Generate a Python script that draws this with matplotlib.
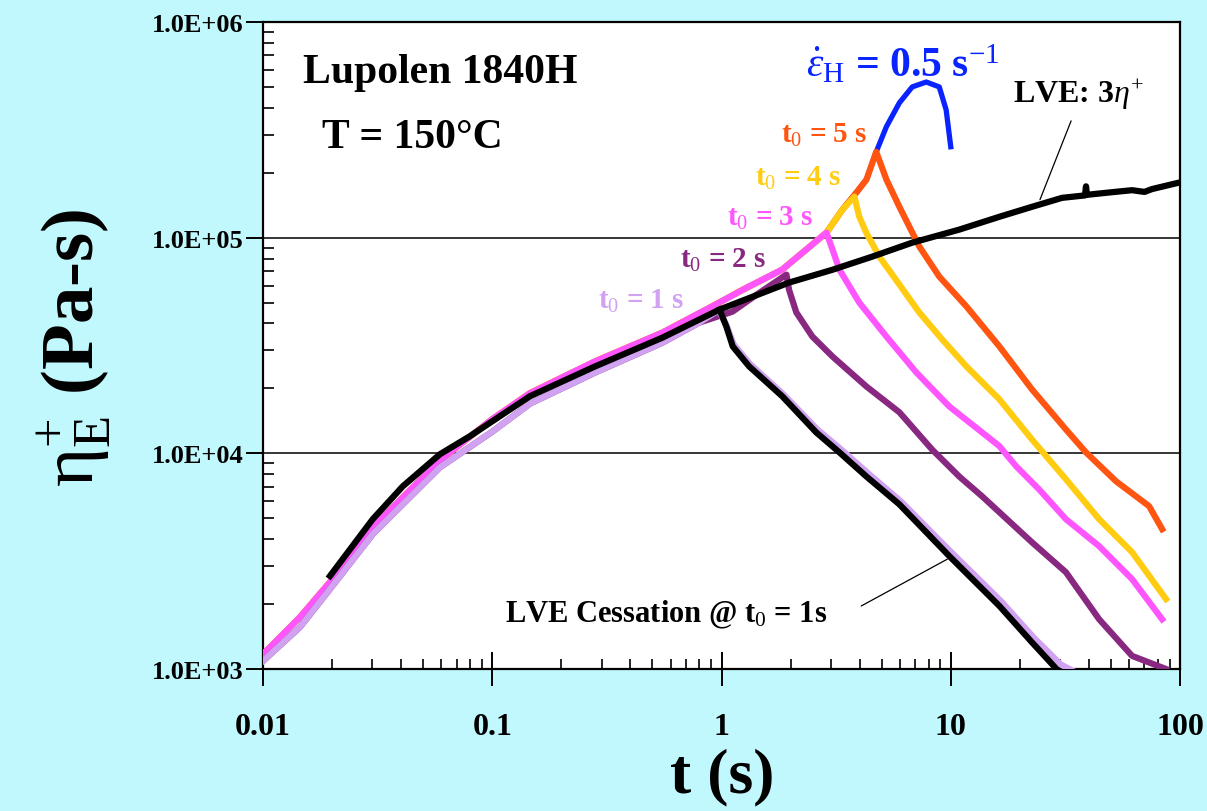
import matplotlib
matplotlib.use('Agg')
import matplotlib.pyplot as plt
from matplotlib.ticker import FixedLocator, LogLocator, NullFormatter

plt.rcParams['font.family'] = 'Liberation Serif'
plt.rcParams['mathtext.fontset'] = 'custom'
plt.rcParams['mathtext.rm'] = 'Liberation Serif'
plt.rcParams['mathtext.it'] = 'Liberation Serif:italic'
plt.rcParams['mathtext.bf'] = 'Liberation Serif:bold'

# startup curves (upper edge of the band = pink/yellow/orange/blue, lower = purple/lavender)
up_t = [0.01, 0.0145, 0.0196, 0.0301, 0.0591, 0.1, 0.146, 0.281, 0.553, 0.94, 1.24, 1.84,
        2.87, 3.37, 3.87, 4.29, 4.73, 5.24, 5.97, 6.79, 7.82, 8.91, 9.55, 10.0]
up_eta = [1.17e3, 1.74e3, 2.53e3, 4.54e3, 9.28e3, 1.44e4, 1.90e4, 2.67e4, 3.63e4, 4.89e4, 5.74e4, 7.11e4,
          1.055e5, 1.35e5, 1.615e5, 1.86e5, 2.50e5, 3.27e5, 4.22e5, 5.0e5, 5.27e5, 5.0e5, 3.91e5, 2.64e5]
lo_t = [0.01, 0.0145, 0.0196, 0.0301, 0.0591, 0.1, 0.146, 0.281, 0.553, 0.80, 1.117, 1.466, 1.92]
lo_eta = [1.09e3, 1.565e3, 2.35e3, 4.22e3, 8.61e3, 1.26e4, 1.70e4, 2.37e4, 3.26e4, 4.04e4, 4.54e4, 5.56e4, 6.74e4]

# relaxation after cessation
lav_t = [0.97, 1.05, 1.13, 1.33, 1.86, 2.62, 3.3, 4.35, 6.05, 10.0, 16.6, 23.0, 30.2, 36.0]
lav_eta = [4.6e4, 3.95e4, 3.2e4, 2.6e4, 1.88e4, 1.29e4, 1.05e4, 8.1e3, 6.0e3, 3.5e3, 2.06e3, 1.40e3, 1.05e3, 0.95e3]
pur_t = [1.97, 2.12, 2.49, 3.05, 4.29, 5.97, 8.30, 10.9, 13.7, 22.6, 31.8, 44.4, 61.8, 86.9]
pur_eta = [5.74e4, 4.5e4, 3.48e4, 2.81e4, 2.04e4, 1.55e4, 1.04e4, 7.8e3, 6.32e3, 3.87e3, 2.81e3, 1.70e3, 1.15e3, 1.0e3]
pink_t = [3.05, 3.27, 3.99, 5.24, 7.08, 9.85, 13.7, 16.3, 19.3, 24.3, 31.8, 44.4, 61.8, 83.6]
pink_eta = [8.8e4, 7.1e4, 5.0e4, 3.48e4, 2.37e4, 1.65e4, 1.25e4, 1.08e4, 8.7e3, 6.8e3, 4.95e3, 3.71e3, 2.61e3, 1.70e3]
yel_t = [3.80, 3.99, 4.29, 4.88, 5.97, 7.29, 9.18, 11.7, 16.3, 22.6, 31.8, 44.4, 61.8, 86.9]
yel_eta = [1.55e5, 1.25e5, 1.05e5, 8.17e4, 6.06e4, 4.5e4, 3.37e4, 2.53e4, 1.78e4, 1.16e4, 7.58e3, 4.95e3, 3.48e3, 2.11e3]
ora_t = [5.24, 5.97, 7.29, 8.91, 11.7, 16.3, 22.6, 31.8, 38.9, 52.6, 73.3, 83.6]
ora_eta = [1.86e5, 1.39e5, 9.1e4, 6.6e4, 4.8e4, 3.13e4, 1.98e4, 1.29e4, 1.01e4, 7.42e3, 5.69e3, 4.45e3]

# linear viscoelastic envelope and LVE cessation at t0 = 1 s
lve_t = [0.0196, 0.0301, 0.0407, 0.0591, 0.0798, 0.146, 0.281, 0.553, 0.98, 1.97, 3.05, 4.55, 6.79,
         10.9, 16.3, 22.6, 30.6, 38.5, 38.9, 39.3, 49.1, 61.8, 70.0, 75.5, 99.0]
lve_eta = [2.70e3, 4.95e3, 7.03e3, 9.9e3, 1.2e4, 1.84e4, 2.53e4, 3.44e4, 4.64e4, 6.19e4, 7.1e4, 8.17e4, 9.48e4,
           1.09e5, 1.25e5, 1.39e5, 1.53e5, 1.57e5, 1.73e5, 1.58e5, 1.62e5, 1.66e5, 1.63e5, 1.68e5, 1.80e5]
cess_t = [0.98, 1.05, 1.12, 1.32, 1.84, 2.59, 3.27, 4.29, 5.97, 9.85, 16.3, 22.6, 29.7]
cess_eta = [4.64e4, 3.87e4, 3.13e4, 2.53e4, 1.84e4, 1.25e4, 1.01e4, 7.8e3, 5.8e3, 3.34e3, 1.96e3, 1.33e3, 0.97e3]

x_ticks = [0.01, 0.1, 1, 10, 100]
x_labels = ['0.01', '0.1', '1', '10', '100']
y_ticks = [1e3, 1e4, 1e5, 1e6]
y_labels = ['1.0E+03', '1.0E+04', '1.0E+05', '1.0E+06']

BG = '#C0F8FD'
BLUE = '#0A24FF'
ORANGE = '#FF5511'
YELLOW = '#FFCC11'
PINK = '#FF55FF'
PURPLE = '#882880'
LAV = '#D2A2F2'


def cut(ts, es, tmax):
    keep = [i for i in range(len(ts)) if ts[i] <= tmax]
    return [ts[i] for i in keep], [es[i] for i in keep]


W, H = 1207, 812
fig = plt.figure(figsize=(W / 100, H / 100), dpi=100, facecolor=BG)
ax = fig.add_axes([263 / W, (H - 670) / H, (1180 - 263) / W, (670 - 23) / H])
ax.set_xscale('log')
ax.set_yscale('log')
ax.set_xlim(0.01, 100)
ax.set_ylim(1e3, 1e6)

lw = 4.5
ax.plot(up_t, up_eta, color=BLUE, lw=3.8, zorder=2)
t, e = cut(up_t, up_eta, 4.73)
ax.plot(t + ora_t, e + ora_eta, color=ORANGE, lw=lw, zorder=3)
t, e = cut(up_t, up_eta, 3.37)
ax.plot(t + yel_t, e + yel_eta, color=YELLOW, lw=lw, zorder=4)
t, e = cut(up_t, up_eta, 2.87)
ax.plot(t + pink_t, e + pink_eta, color=PINK, lw=lw, zorder=5)
ax.plot(lo_t + pur_t, lo_eta + pur_eta, color=PURPLE, lw=lw, zorder=6)
t, e = cut(lo_t, lo_eta, 0.80)
ax.plot(t + lav_t, e + lav_eta, color=LAV, lw=lw, zorder=7)
ax.plot(lve_t, lve_eta, color='black', lw=lw, zorder=8)
ax.plot(cess_t, cess_eta, color='black', lw=lw, zorder=8)

# leader lines
ax.annotate('', xy=(24.5, 1.5e5), xytext=(33.5, 3.48e5),
            arrowprops=dict(arrowstyle='-', lw=0.9, color='black', shrinkA=0, shrinkB=0))
ax.annotate('', xy=(9.66, 3.23e3), xytext=(4.07, 1.96e3),
            arrowprops=dict(arrowstyle='-', lw=0.9, color='black', shrinkA=0, shrinkB=0))

ax.grid(False)
for yv in y_ticks[1:3]:
    ax.axhline(yv, color='black', lw=1.1, zorder=1)

for s in ax.spines.values():
    s.set_linewidth(1.6)

ax.xaxis.set_major_locator(FixedLocator(x_ticks))
ax.set_xticklabels(x_labels)
ax.xaxis.set_minor_locator(LogLocator(base=10, subs=range(2, 10)))
ax.xaxis.set_minor_formatter(NullFormatter())
ax.yaxis.set_major_locator(FixedLocator(y_ticks))
ax.set_yticklabels(y_labels)
ax.yaxis.set_minor_locator(LogLocator(base=10, subs=range(2, 10)))
ax.yaxis.set_minor_formatter(NullFormatter())

ax.tick_params(axis='x', which='major', direction='inout', length=24, width=1.4, pad=19,
               labelsize=23)
ax.tick_params(axis='x', which='minor', direction='in', length=7, width=1.2)
ax.tick_params(axis='y', which='major', direction='out', length=12, width=1.4, pad=2,
               labelsize=19)
ax.tick_params(axis='y', which='minor', direction='in', length=8, width=1.2)
for lab in ax.get_xticklabels() + ax.get_yticklabels():
    lab.set_fontweight('bold')


def px(x, y):
    return x / W, 1 - y / H


fig.text(*px(303, 83), 'Lupolen 1840H', fontsize=30, fontweight='bold', va='baseline')
fig.text(*px(322, 148), 'T = 150\u00b0C', fontsize=30, fontweight='bold', va='baseline')
fig.text(*px(806, 77), r'$\dot{\varepsilon}_{\mathrm{H}}$ = 0.5 s$^{-1}$', fontsize=30,
         fontweight='bold', color=BLUE, va='baseline')
fig.text(*px(1013, 103), r'LVE: 3$\eta^{+}$', fontsize=23, fontweight='bold', va='baseline')

t0_labels = [('5', ORANGE, 781, 143), ('4', YELLOW, 755, 186), ('3', PINK, 727, 226),
             ('2', PURPLE, 680, 268), ('1', LAV, 598, 309)]
for num, col, x0, y0 in t0_labels:
    fig.text(*px(x0, y0), r'$\mathbf{t}_{0}$ = ' + num + ' s', fontsize=21, fontweight='bold',
             color=col, va='baseline')

fig.text(*px(505, 622), r'LVE Cessation @ $\mathbf{t}_{0}$ = 1s', fontsize=22, fontweight='bold',
         va='baseline')

fig.text(*px(722, 777), 't (s)', fontsize=46, fontweight='bold', ha='center', va='center')
fig.text(*px(74, 348), r'$\mathrm{\eta}_{\mathrm{E}}^{+}$ (Pa-s)', fontsize=54, fontweight='bold',
         rotation=90, ha='center', va='center')

fig.savefig('out.png', dpi=100, facecolor=BG)
